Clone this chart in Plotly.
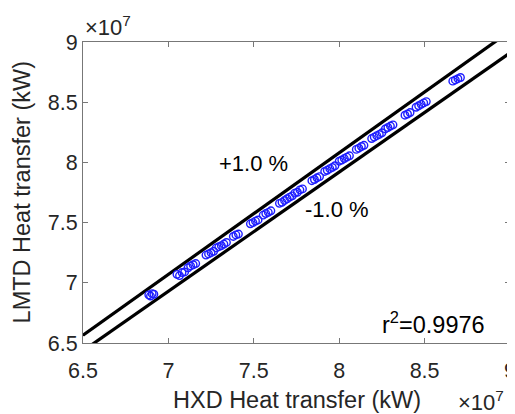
import plotly.graph_objects as go

# Data (values in units of 1e7 kW)
hxd_1e7 = [6.885, 6.895, 6.905, 6.915,
           7.050, 7.065, 7.080, 7.095,
           7.115, 7.130, 7.145, 7.160,
           7.220, 7.235, 7.250, 7.265,
           7.280, 7.295, 7.310, 7.325, 7.340,
           7.380, 7.395, 7.410,
           7.480, 7.495, 7.510, 7.525,
           7.555, 7.570, 7.585, 7.600,
           7.650, 7.665, 7.680, 7.695, 7.710, 7.725, 7.740, 7.755, 7.770, 7.785,
           7.840, 7.855, 7.870, 7.885,
           7.915, 7.930, 7.945, 7.960, 7.975,
           8.000, 8.015, 8.030, 8.045, 8.060,
           8.100, 8.115, 8.130, 8.145,
           8.190, 8.205, 8.220, 8.235, 8.250,
           8.270, 8.285, 8.300, 8.315,
           8.385, 8.400, 8.415,
           8.450, 8.465, 8.480, 8.495, 8.510,
           8.665, 8.680, 8.695, 8.710]
lmtd_1e7 = [6.900, 6.890, 6.910, 6.905,
            7.070, 7.060, 7.085, 7.090,
            7.125, 7.140, 7.150, 7.160,
            7.230, 7.240, 7.250, 7.262,
            7.290, 7.300, 7.308, 7.322, 7.335,
            7.385, 7.398, 7.405,
            7.490, 7.500, 7.512, 7.522,
            7.562, 7.575, 7.585, 7.598,
            7.660, 7.668, 7.684, 7.698, 7.712, 7.722, 7.745, 7.752, 7.772, 7.780,
            7.848, 7.858, 7.872, 7.882,
            7.925, 7.935, 7.948, 7.958, 7.972,
            8.010, 8.020, 8.032, 8.044, 8.055,
            8.108, 8.118, 8.132, 8.142,
            8.198, 8.210, 8.222, 8.232, 8.246,
            8.278, 8.290, 8.302, 8.312,
            8.392, 8.402, 8.414,
            8.458, 8.470, 8.482, 8.494, 8.505,
            8.675, 8.685, 8.695, 8.705]

x_ticks = [6.5, 7, 7.5, 8, 8.5, 9]
y_ticks = [6.5, 7, 7.5, 8, 8.5, 9]
band_pct = 1.0
line_x = [6.5, 9.0]
upper_y = [v * (1 + band_pct / 100) for v in line_x]
lower_y = [v * (1 - band_pct / 100) for v in line_x]
r2_text = "r<sup>2</sup>=0.9976"

FONT = "Liberation Sans, Arial, sans-serif"
TXT = "#262626"

fig = go.Figure()
fig.add_trace(go.Scatter(x=line_x, y=upper_y, mode="lines",
                         line=dict(color="black", width=3.2), showlegend=False))
fig.add_trace(go.Scatter(x=line_x, y=lower_y, mode="lines",
                         line=dict(color="black", width=3.2), showlegend=False))
fig.add_trace(go.Scatter(x=hxd_1e7, y=lmtd_1e7, mode="markers",
                         marker=dict(symbol="circle-open", size=7.5,
                                     color="rgb(30,30,255)",
                                     line=dict(width=1.4)),
                         showlegend=False))

axis_common = dict(range=[6.5, 9], showgrid=False, zeroline=False,
                   showline=True, linecolor="#777777", linewidth=1,
                   mirror="ticks", ticks="inside", ticklen=5,
                   tickcolor="#777777", tickfont=dict(family=FONT, size=21.5, color=TXT),
                   ticklabeloverflow="allow", automargin=False)
fig.update_xaxes(tickvals=x_ticks, ticktext=[f"{t:g}" for t in x_ticks],
                 ticklabelstandoff=8, **axis_common)
fig.update_yaxes(tickvals=y_ticks, ticktext=[f"{t:g}" for t in y_ticks], **axis_common)

ann = [
    dict(text="HXD Heat transfer (kW)", x=0.5, y=-0.19, xref="paper", yref="paper",
         xanchor="center", yanchor="middle",
         showarrow=False, font=dict(family=FONT, size=23.5, color=TXT)),
    dict(text="LMTD Heat transfer (kW)", x=-0.143, y=0.5, xref="paper", yref="paper",
         xanchor="center", yanchor="middle",
         textangle=-90, showarrow=False, font=dict(family=FONT, size=23.5, color=TXT)),
    dict(text="\u00d710<sup>7</sup>", x=0.0, y=1.0, xref="paper", yref="paper",
         xanchor="left", yanchor="bottom", showarrow=False,
         font=dict(family=FONT, size=22, color=TXT)),
    dict(text="\u00d710<sup>7</sup>", x=0.99, y=-0.14, xref="paper", yref="paper",
         xanchor="right", yanchor="top", showarrow=False,
         font=dict(family=FONT, size=22, color=TXT)),
    dict(text="+1.0 %", x=7.50, y=7.987, xref="x", yref="y", showarrow=False,
         font=dict(family=FONT, size=22, color="black")),
    dict(text="-1.0 %", x=7.99, y=7.605, xref="x", yref="y", showarrow=False,
         font=dict(family=FONT, size=22, color="black")),
    dict(text=r2_text, x=8.555, y=6.666, xref="x", yref="y", showarrow=False,
         font=dict(family=FONT, size=23.5, color="black")),
]

# The page adds an 8px body margin, so the figure is 8px smaller on each axis
fig.update_layout(width=507, height=406, margin=dict(l=75, r=5, t=34, b=71),
                  plot_bgcolor="white", paper_bgcolor="white",
                  annotations=ann, font=dict(family=FONT))

fig.write_html("out.html")
